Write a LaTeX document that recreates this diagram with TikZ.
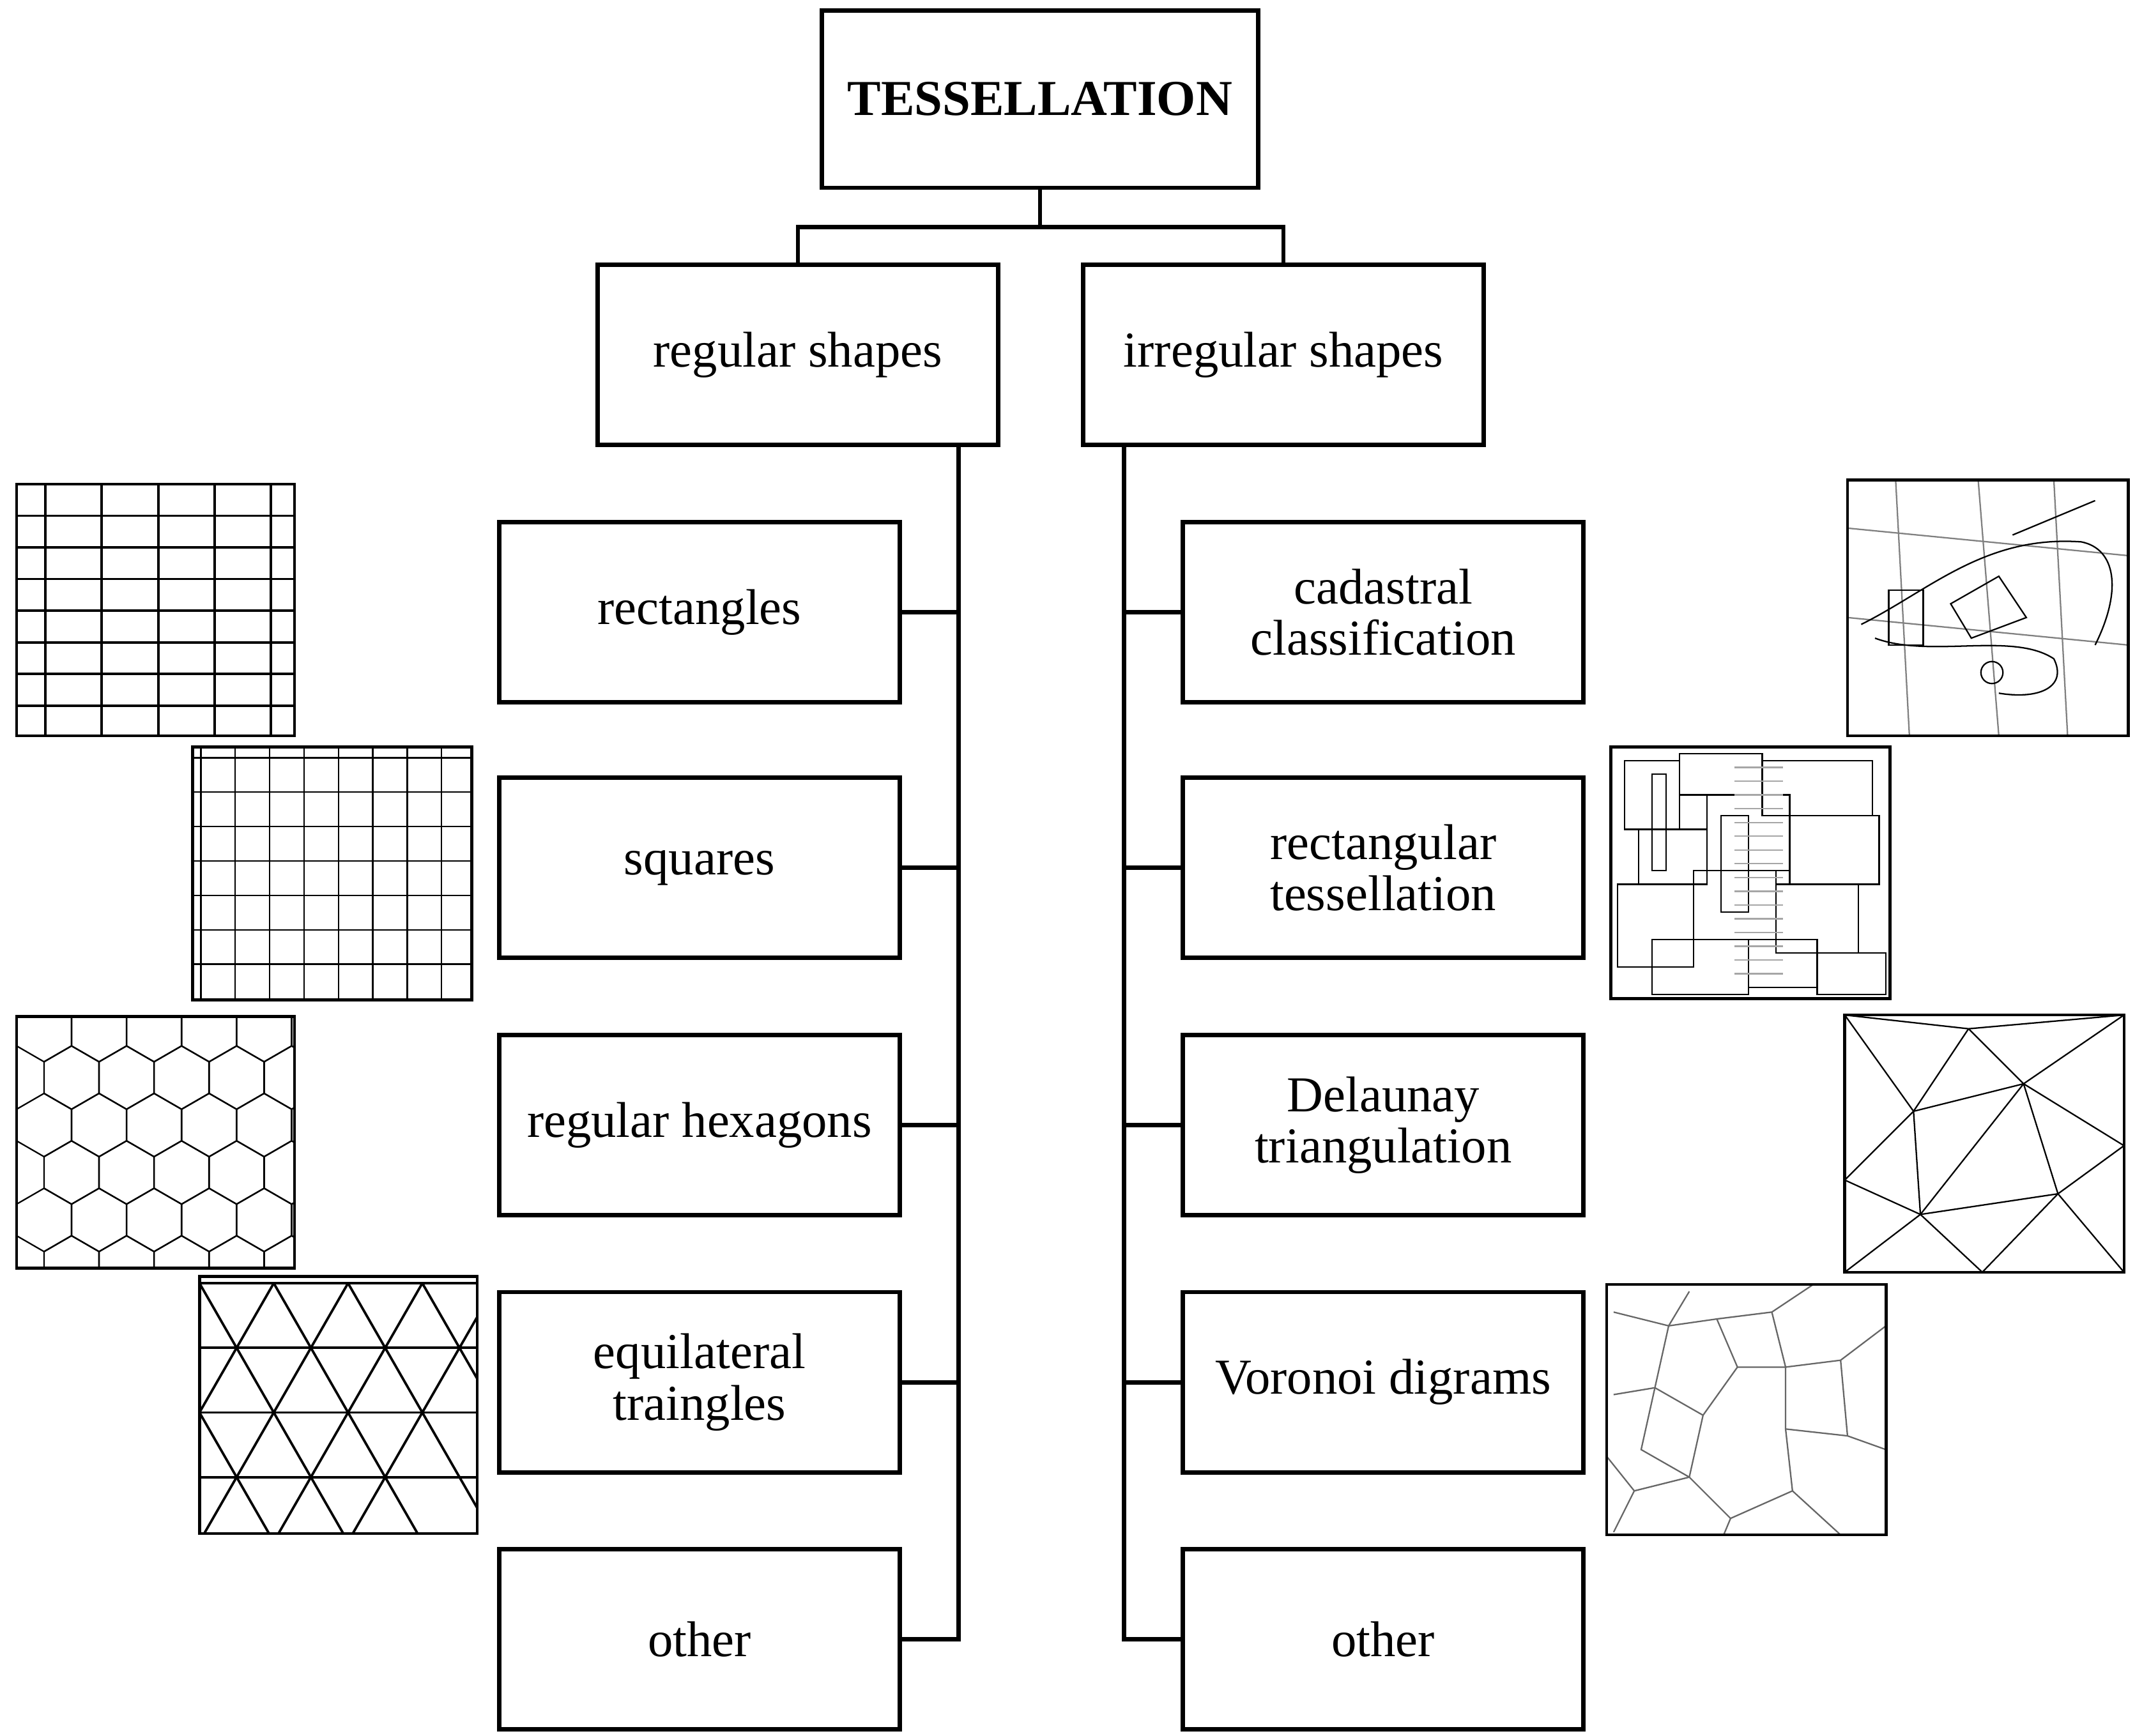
\documentclass[tikz,border=0pt]{standalone}
\usepackage{fontspec}
\setmainfont{Liberation Serif}
\begin{document}
\begin{tikzpicture}[
    box/.style={draw, line width=0.9pt, minimum width=2.91cm, minimum height=1.31cm, align=center, font=\fontsize{10.4}{10.6}\selectfont},
    link/.style={line width=0.9pt},
    thumb/.style={draw, line width=0.6pt},
    fine/.style={line width=0.3pt}
  ]
    \useasboundingbox (0,0) rectangle (15.52,-12.62);

    % Root and two groups
    \node[box, minimum width=3.17cm, minimum height=1.29cm, font=\fontsize{10.4}{10.6}\selectfont\bfseries] (root) at (7.56,-0.72) {TESSELLATION};
    \node[box] (regular) at (5.80,-2.58) {regular shapes};
    \node[box] (irregular) at (9.33,-2.58) {irregular shapes};

    % Left column
    \node[box] (rect) at (5.085,-4.45) {rectangles};
    \node[box] (squares) at (5.085,-6.31) {squares};
    \node[box] (hex) at (5.085,-8.18) {regular hexagons};
    \node[box] (tri) at (5.085,-10.05) {equilateral\\traingles};
    \node[box] (lother) at (5.085,-11.92) {other};

    % Right column
    \node[box] (cad) at (10.055,-4.45) {cadastral\\classification};
    \node[box] (rtess) at (10.055,-6.31) {rectangular\\tessellation};
    \node[box] (delaunay) at (10.055,-8.18) {Delaunay\\triangulation};
    \node[box] (voronoi) at (10.055,-10.05) {Voronoi digrams};
    \node[box] (rother) at (10.055,-11.92) {other};

    % Connections
    \coordinate (top) at (7.56,-1.65);
    \draw[link] (root.south) -- (top);
    \draw[link] (regular.north) |- (top) -| (irregular.north);

    \coordinate (ltrunk) at (6.97,-3.24);
    \draw[link] (ltrunk) -- (6.97,-11.92) -- (lother.east);
    \foreach \n in {rect,squares,hex,tri}
      \draw[link] (\n.east) -- (6.97,0 |- \n.east);

    \coordinate (rtrunk) at (8.17,-3.24);
    \draw[link] (rtrunk) -- (8.17,-11.92) -- (rother.west);
    \foreach \n in {cad,rtess,delaunay,voronoi}
      \draw[link] (\n.west) -- (8.17,0 |- \n.west);

    % Thumbnail: rectangles
    \begin{scope}[shift={(0.12,-3.52)}]
      \clip (0,0) rectangle (2.02,-1.83);
      \foreach \x in {0.21,0.62,1.03,1.44,1.85} \draw[fine, line width=0.5pt] (\x,0) -- (\x,-1.83);
      \foreach \y in {0.23,0.46,...,1.7} \draw[fine, line width=0.5pt] (0,-\y) -- (2.02,-\y);
    \end{scope}
    \draw[thumb] (0.12,-3.52) rectangle (2.14,-5.35);

    % Thumbnail: squares
    \begin{scope}[shift={(1.40,-5.43)}]
      \clip (0,0) rectangle (2.03,-1.84);
      \foreach \x in {0.06,0.31,...,2.0} \draw[fine] (\x,0) -- (\x,-1.84);
      \foreach \y in {0.08,0.33,...,1.8} \draw[fine] (0,-\y) -- (2.03,-\y);
    \end{scope}
    \draw[thumb] (1.40,-5.43) rectangle (3.43,-7.27);

    % Thumbnail: hexagons
    \begin{scope}[shift={(0.12,-7.39)}]
      \clip (0,0) rectangle (2.02,-1.83);
      \foreach \i in {0,...,5}
        \foreach \j in {0,...,6} {
          \pgfmathsetmacro\hx{0.2+\i*0.40+mod(\j,2)*0.20}
          \pgfmathsetmacro\hy{-0.1-\j*0.345}
          \draw[fine] (\hx,\hy) +(90:0.23) -- +(150:0.23) -- +(210:0.23) -- +(270:0.23) -- +(330:0.23) -- +(30:0.23) -- cycle;
        }
    \end{scope}
    \draw[thumb] (0.12,-7.39) rectangle (2.14,-9.22);

    % Thumbnail: triangles
    \begin{scope}[shift={(1.45,-9.28)}]
      \clip (0,0) rectangle (2.02,-1.87);
      \foreach \y in {0.05,0.52,0.99,1.46} \draw[fine, line width=0.5pt] (0,-\y) -- (2.02,-\y);
      \foreach \x in {-2.16,-1.62,...,2.2} {
        \draw[fine, line width=0.5pt] (\x,-0.05) -- ++(1.62,-2.82);
        \draw[fine, line width=0.5pt] (\x,-0.05) -- ++(-1.62,-2.82);
      }
    \end{scope}
    \draw[thumb] (1.45,-9.28) rectangle (3.47,-11.15);

    % Thumbnail: cadastral
    \begin{scope}[shift={(13.43,-3.49)}]
      \clip (0,0) rectangle (2.04,-1.86);
      \foreach \x/\s in {0.35/0.1,0.95/0.15,1.5/0.1} \draw[fine, gray] (\x,0) -- (\x+\s,-1.86);
      \draw[fine, gray] (0,-0.35) -- (2.04,-0.55);
      \draw[fine, gray] (0,-1.0) -- (2.04,-1.2);
      \draw[fine] (0.1,-1.05) .. controls (0.6,-0.8) and (1.0,-0.4) .. (1.7,-0.45) .. controls (1.95,-0.5) and (2.0,-0.8) .. (1.8,-1.2);
      \draw[fine] (0.2,-1.15) .. controls (0.6,-1.3) and (1.2,-1.1) .. (1.5,-1.3) .. controls (1.6,-1.5) and (1.4,-1.6) .. (1.1,-1.55);
      \draw[fine] (0.3,-0.8) rectangle (0.55,-1.2);
      \draw[fine] (0.75,-0.9) -- (1.1,-0.7) -- (1.3,-1.0) -- (0.9,-1.15) -- cycle;
      \draw[fine] (1.2,-0.4) -- (1.8,-0.15);
      \draw[fine] (1.05,-1.4) circle (0.08);
    \end{scope}
    \draw[thumb] (13.43,-3.49) rectangle (15.47,-5.35);

    % Thumbnail: rectangular tessellation
    \begin{scope}[shift={(11.71,-5.43)}]
      \clip (0,0) rectangle (2.03,-1.83);
      \foreach \a/\b/\c/\d in {0.1/0.1/0.5/0.6, 0.5/0.05/1.1/0.35, 1.1/0.1/1.9/0.5, 0.2/0.6/0.7/1.0,
          0.7/0.35/1.3/0.9, 1.3/0.5/1.95/1.0, 0.05/1.0/0.6/1.6, 0.6/0.9/1.2/1.4, 1.2/1.0/1.8/1.5,
          0.3/1.4/1.0/1.8, 1.0/1.4/1.5/1.75, 1.5/1.5/2.0/1.8, 0.3/0.2/0.4/0.9, 0.8/0.5/1.0/1.2}
        \draw[fine] (\a,-\b) rectangle (\c,-\d);
      \foreach \y in {0.15,0.25,...,1.75} \draw[fine, gray!70] (0.9,-\y) -- (1.25,-\y);
    \end{scope}
    \draw[thumb] (11.71,-5.43) rectangle (13.74,-7.26);

    % Thumbnail: Delaunay
    \begin{scope}[shift={(13.41,-7.38)}]
      \clip (0,0) rectangle (2.03,-1.87);
      \coordinate (d1) at (0,0); \coordinate (d2) at (0.9,-0.1); \coordinate (d3) at (2.03,0);
      \coordinate (d4) at (0.5,-0.7); \coordinate (d5) at (1.3,-0.5); \coordinate (d6) at (2.03,-0.95);
      \coordinate (d7) at (0,-1.2); \coordinate (d8) at (0.55,-1.45); \coordinate (d9) at (1.55,-1.3);
      \coordinate (d10) at (0,-1.87); \coordinate (d11) at (1.0,-1.87); \coordinate (d12) at (2.03,-1.87);
      \foreach \p/\q in {1/2,2/3,1/4,2/4,2/5,3/5,4/5,5/6,3/6,1/7,4/7,4/8,7/8,5/8,5/9,6/9,8/9,7/10,8/10,8/11,9/11,9/12,6/12,11/12,10/11}
        \draw[fine] (d\p) -- (d\q);
    \end{scope}
    \draw[thumb] (13.41,-7.38) rectangle (15.44,-9.25);

    % Thumbnail: Voronoi
    \begin{scope}[shift={(11.68,-9.34)}]
      \clip (0,0) rectangle (2.03,-1.82);
      \foreach \p in {{(0.05,-0.2) -- (0.45,-0.3) -- (0.6,-0.05)}, {(0.45,-0.3) -- (0.35,-0.75) -- (0.05,-0.8)},
          {(0.35,-0.75) -- (0.7,-0.95) -- (0.95,-0.6) -- (0.8,-0.25) -- (0.45,-0.3)},
          {(0.8,-0.25) -- (1.2,-0.2) -- (1.5,0)}, {(1.2,-0.2) -- (1.3,-0.6) -- (0.95,-0.6)},
          {(1.3,-0.6) -- (1.7,-0.55) -- (2.03,-0.3)}, {(1.7,-0.55) -- (1.75,-1.1) -- (2.03,-1.2)},
          {(0.7,-0.95) -- (0.6,-1.4) -- (0.2,-1.5) -- (0.05,-1.8)}, {(0.6,-1.4) -- (0.9,-1.7) -- (1.35,-1.5) -- (1.3,-1.05) -- (1.3,-0.6)},
          {(1.3,-1.05) -- (1.75,-1.1)}, {(1.35,-1.5) -- (1.7,-1.82)}, {(0.9,-1.7) -- (0.85,-1.82)},
          {(0.2,-1.5) -- (0,-1.25)}, {(0.35,-0.75) -- (0.25,-1.2) -- (0.6,-1.4)}}
        \draw[fine, gray!80!black] \p;
    \end{scope}
    \draw[thumb] (11.68,-9.34) rectangle (13.71,-11.16);

  \end{tikzpicture}
\end{document}
